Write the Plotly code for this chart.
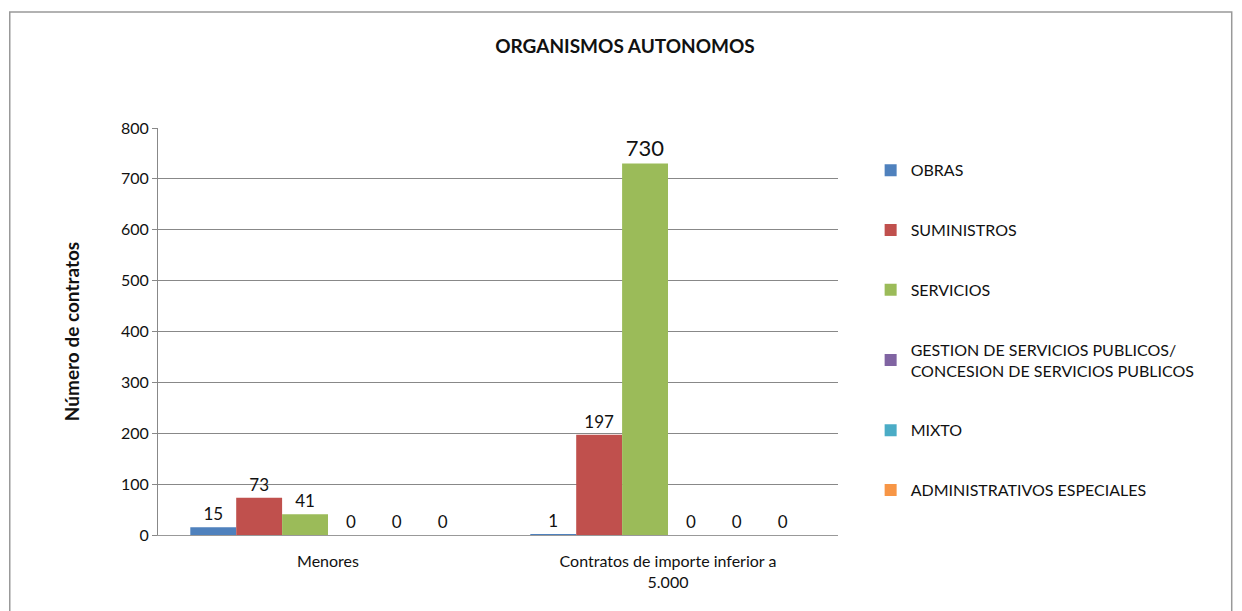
import plotly.graph_objects as go

categories = ["Menores", "Contratos de importe inferior a<br>5.000"]
series_names = ["OBRAS", "SUMINISTROS", "SERVICIOS",
                "GESTION DE SERVICIOS PUBLICOS/<br>CONCESION DE SERVICIOS PUBLICOS",
                "MIXTO", "ADMINISTRATIVOS ESPECIALES"]
obras = [15, 1]
suministros = [73, 197]
servicios = [41, 730]
gestion = [0, 0]
mixto = [0, 0]
admin = [0, 0]
values = [obras, suministros, servicios, gestion, mixto, admin]
colors = ["#4F81BD", "#C0504D", "#9BBB59", "#8064A2", "#4BACC6", "#F79646"]
y_ticks = [0, 100, 200, 300, 400, 500, 600, 700, 800]

FONT = "Lato"
fig = go.Figure()
for name, vals, col in zip(series_names, values, colors):
    fig.add_trace(go.Bar(
        x=categories, y=vals, name=name,
        marker=dict(color=col, line=dict(width=0)),
        text=[str(v) for v in vals], textposition="outside",
        textfont=dict(family=FONT, size=[17 if v < 500 else 22 for v in vals], color="#111"),
        cliponaxis=False,
    ))

fig.update_layout(
    width=1242, height=611,
    paper_bgcolor="white", plot_bgcolor="white",
    margin=dict(l=150, r=412, t=120, b=84),
    barmode="group", bargap=0.19, bargroupgap=0,
    title=dict(text="<b>ORGANISMOS AUTONOMOS</b>", x=617/1242, xanchor="center",
               y=1 - 38/611, yanchor="middle",
               font=dict(family=FONT, size=19, color="#111")),
    font=dict(family=FONT, color="#111"),
    xaxis=dict(showgrid=False, showline=True, linecolor="#999", ticks="",
               ticklabelstandoff=12,
               tickfont=dict(size=16, family=FONT, color="#111")),
    yaxis=dict(range=[0, 800], tickvals=y_ticks, showgrid=True, gridcolor="#888",
               gridwidth=1, showline=True, linecolor="#888", ticks="outside",
               ticklen=5, tickcolor="#888",
               tickfont=dict(size=16, family=FONT, color="#111"),
               title=dict(text="<b>Número de contratos</b>", font=dict(size=19, family=FONT),
                          standoff=36)),
    legend=dict(x=1.048, y=0.938, xanchor="left", yanchor="top",
                font=dict(size=16, family=FONT, color="#111"),
                tracegroupgap=36, itemsizing="constant", itemwidth=30,
                bgcolor="rgba(0,0,0,0)"),
    showlegend=True,
    shapes=[dict(type="rect", xref="paper", yref="paper",
                 x0=-0.218, x1=1.579, y0=-0.2, y1=1.285,
                 line=dict(color="#999", width=1.5), fillcolor="rgba(0,0,0,0)", layer="below")],
)
for i, tr in enumerate(fig.data):
    tr.legendgroup = "g%d" % i

fig.write_html("out.html")
